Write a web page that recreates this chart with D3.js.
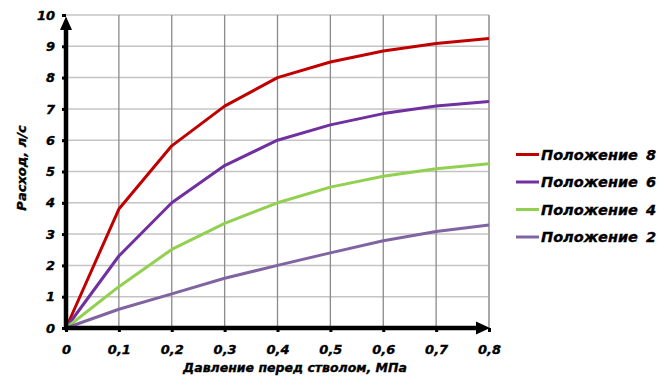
<!DOCTYPE html>
<html lang="en">
<head>
<meta charset="UTF-8">
<title>Расход</title>
<script src="https://d3js.org/d3.v7.min.js"></script>
<style>
body { margin: 0; background: #fff; }
text { font-family: "DejaVu Sans", Verdana, sans-serif; font-weight: bold; font-style: italic; fill: #000; stroke: #000; stroke-width: 0.35px; }
</style>
</head>
<body>
<div id="container"></div>
<script>
// pressure values, MPa
const pressure = [0, 0.1, 0.2, 0.3, 0.4, 0.5, 0.6, 0.7, 0.8];
const pos8 = [0, 3.8, 5.82, 7.09, 8.0, 8.5, 8.85, 9.09, 9.25];
const pos6 = [0, 2.3, 4.0, 5.19, 6.0, 6.49, 6.85, 7.09, 7.24];
const pos4 = [0, 1.32, 2.51, 3.34, 4.0, 4.5, 4.85, 5.09, 5.25];
const pos2 = [0, 0.6, 1.09, 1.59, 2.0, 2.4, 2.79, 3.08, 3.29];
const seriesNames = ["Положение 8", "Положение 6", "Положение 4", "Положение 2"];
const seriesColors = ["#C00000", "#7030A0", "#92D050", "#8064A2"];
const yTicks = d3.range(0, 11);

const width = 665, height = 391;
const svg = d3.select("#container").append("svg")
    .attr("width", width).attr("height", height);

const x = d3.scaleLinear().domain([0, 0.8]).range([66, 489]);
const y = d3.scaleLinear().domain([0, 10]).range([328, 15]);

// grid
svg.append("g").selectAll("line").data(yTicks.slice(1)).join("line")
    .attr("x1", x(0)).attr("x2", x(0.8))
    .attr("y1", d => y(d)).attr("y2", d => y(d))
    .attr("stroke", "#c4c4c4").attr("stroke-width", 1.5);
svg.append("g").selectAll("line").data(pressure.slice(1)).join("line")
    .attr("x1", d => x(d)).attr("x2", d => x(d))
    .attr("y1", y(0)).attr("y2", y(10))
    .attr("stroke", d => d === 0.8 ? "#a8a8a8" : "#8a8a8a").attr("stroke-width", d => d === 0.8 ? 2 : 1.3);

// series
const all = [pos8, pos6, pos4, pos2];
const line = d3.line().x((d, i) => x(pressure[i])).y(d => y(d));
svg.append("g").selectAll("path").data(all).join("path")
    .attr("d", line)
    .attr("fill", "none")
    .attr("stroke", (d, i) => seriesColors[i])
    .attr("stroke-width", 3)
    .attr("stroke-linejoin", "round");

// axes with arrows
const fmt = d => String(d).replace(".", ",");
const xAxis = svg.append("g").attr("transform", `translate(0,${y(0)})`)
    .call(d3.axisBottom(x).tickValues(pressure).tickFormat(fmt).tickSize(4).tickPadding(10));
const yAxis = svg.append("g").attr("transform", `translate(${x(0)},0)`)
    .call(d3.axisLeft(y).tickValues(yTicks).tickSize(4).tickPadding(7));
[xAxis, yAxis].forEach(a => {
    a.select(".domain").remove();
    a.selectAll(".tick line").attr("stroke", "#000").attr("stroke-width", 3);
    a.selectAll(".tick text").style("font-size", "13px");
});
xAxis.selectAll(".tick text").attr("dy", "0.9em");

svg.append("line").attr("x1", x(0) - 2).attr("x2", 477).attr("y1", y(0)).attr("y2", y(0))
    .attr("stroke", "#000").attr("stroke-width", 4.5);
svg.append("path").attr("d", `M476,${y(0) - 6.5}L490,${y(0)}L476,${y(0) + 6.5}Z`).attr("fill", "#000");
svg.append("line").attr("x1", x(0)).attr("x2", x(0)).attr("y1", y(0) + 2).attr("y2", 29)
    .attr("stroke", "#000").attr("stroke-width", 4.5);
svg.append("path").attr("d", `M${x(0) - 6},30L${x(0)},16.5L${x(0) + 6},30Z`).attr("fill", "#000");

// axis titles
svg.append("text").attr("x", 295).attr("y", 372).attr("text-anchor", "middle")
    .style("font-size", "12.5px").text("Давление перед стволом, МПа");
svg.append("text").attr("transform", "translate(26,168) rotate(-90)").attr("text-anchor", "middle")
    .style("font-size", "13px").text("Расход, л/с");

// legend
const legend = svg.append("g").selectAll("g").data(seriesNames).join("g")
    .attr("transform", (d, i) => `translate(516,${154.5 + i * 27.5})`);
legend.append("line").attr("x1", 0).attr("x2", 23).attr("stroke", (d, i) => seriesColors[i]).attr("stroke-width", 3);
legend.append("text").attr("x", 25).attr("dy", "0.36em").style("font-size", "14.5px")
    .style("word-spacing", "3px").text(d => d);
</script>
</body>
</html>
